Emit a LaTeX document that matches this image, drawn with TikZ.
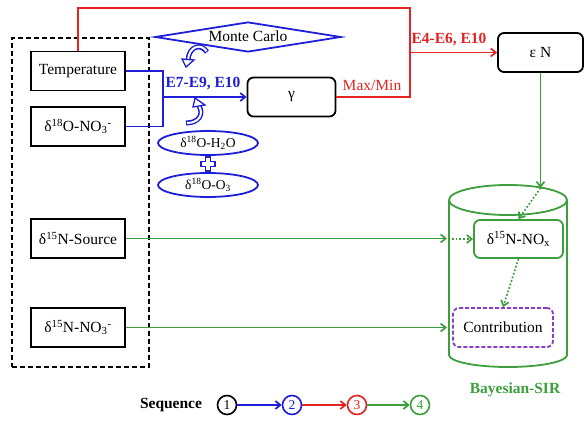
\documentclass[tikz,border=0pt]{standalone}
\usepackage{fontspec}
\setmainfont{Liberation Serif}
\usetikzlibrary{arrows.meta,shapes.geometric,calc}
\definecolor{cb}{RGB}{30,30,215}
\definecolor{cr}{RGB}{228,35,35}
\definecolor{cg}{RGB}{60,158,60}
\definecolor{cp}{RGB}{140,60,190}
\begin{document}
\begin{tikzpicture}[x=1pt,y=-1pt,font=\fontsize{15.5}{18}\selectfont,
  inbox/.style={draw,line width=1.8pt,minimum width=94,minimum height=39,inner sep=0pt},
  rbox/.style={draw,line width=1.8pt,rounded corners=6pt,inner sep=0pt},
  conn/.style={line width=1.7pt},
  tip/.style={-{Straight Barb[length=5pt,width=8pt]}},
  oval/.style={draw=cb,line width=1.8pt,ellipse,minimum width=100,minimum height=24,inner sep=0pt,font=\fontsize{13.5}{15}\selectfont},
  curvbody/.style={draw=cb,line width=5pt},
  curvfill/.style={draw=white,line width=2pt},
  seqc/.style={circle,draw,line width=1.6pt,minimum size=19,inner sep=0pt,font=\fontsize{13.5}{14}\selectfont},
  lbl/.style={font=\fontsize{15.5}{18}\selectfont\bfseries}]
\useasboundingbox (0,0) rectangle (584,425);

% input frame and boxes
\node[draw,dash pattern=on 5pt off 3pt,line width=1.6pt,minimum width=137,minimum height=329,inner sep=0pt] (frame) at (80.5,202.5) {};
\node[inbox] (temp) at (78,71) {Temperature};
\node[inbox] (o18) at (78,126.5) {δ\textsuperscript{18}O-NO\textsubscript{3}\textsuperscript{-}};
\node[inbox] (n15s) at (78,238.5) {δ\textsuperscript{15}N-Source};
\node[inbox] (n15n) at (78,327.5) {δ\textsuperscript{15}N-NO\textsubscript{3}\textsuperscript{-}};

% Monte Carlo and oxygen sources
\node[diamond,draw=cb,line width=1.8pt,aspect=6.2,minimum width=186,minimum height=30,inner sep=0pt] (mc) at (248,37) {};
\node (mct) at (248,36) {Monte Carlo};
\node[oval] (h2o) at (208,143) {δ\textsuperscript{18}O-H\textsubscript{2}O};
\node[oval] (o3) at (208,185) {δ\textsuperscript{18}O-O\textsubscript{3}};
\coordinate (plus) at (208,164);
\draw[cb,line width=1.5pt,fill=white] ($(plus)+(-2.5,-7)$) -- ++(5,0) -- ++(0,4.5) -- ++(4.5,0) -- ++(0,5) -- ++(-4.5,0) -- ++(0,4.5) -- ++(-5,0) -- ++(0,-4.5) -- ++(-4.5,0) -- ++(0,-5) -- ++(4.5,0) -- cycle;

% curved block arrows
\coordinate (ca1) at (207,52);
\coordinate (ca2) at (188,60);
\coordinate (ca3) at (186,67);
\draw[curvbody] (ca1) .. controls (201,43) and (189,46) .. (ca2);
\draw[curvfill,shorten <=1pt] (ca1) .. controls (201,43) and (189,46) .. (ca2);
\draw[cb,line width=1.3pt,fill=white] (182,59) -- (194,60) -- (ca3) -- cycle;
\coordinate (cb1) at (186,123);
\coordinate (cb2) at (199,106);
\coordinate (cb3) at (195,98);
\draw[curvbody] (cb1) .. controls (199,123) and (204,114) .. (cb2);
\draw[curvfill,shorten <=1pt] (cb1) .. controls (199,123) and (204,114) .. (cb2);
\draw[cb,line width=1.3pt,fill=white] (193,107) -- (205,105) -- (cb3) -- cycle;

% gamma and epsilon
\node[rbox,minimum width=88,minimum height=39] (gamma) at (291.5,97) {γ};
\node[rbox,minimum width=85,minimum height=39] (eN) at (540.5,52.5) {ε N};

% blue connectors
\coordinate (bj) at (163,97);
\draw[cb,conn] (temp.east) -| (bj) |- (o18.east);
\draw[cb,conn,tip] (bj) -- (gamma.west);
\node[lbl,text=cb] (e79) at (203,84) {E7-E9, E10};

% red connectors
\coordinate (rtop) at (410,8);
\draw[cr,conn] (gamma.east) -| (rtop) -| (temp.north);
\draw[cr,conn,tip] (rtop |- eN.west) -- (eN.west);
\node[lbl,text=cr] (e46) at (449,40) {E4-E6, E10};
\node[text=cr] (mm) at (372,85) {Max/Min};

% Bayesian-SIR cylinder
\coordinate (cyl) at (508,200);
\draw[cg,line width=1.8pt] (cyl) ellipse [x radius=59,y radius=15];
\draw[cg,line width=1.8pt] (449,200) -- (449,355) arc [start angle=180,end angle=360,x radius=59,y radius=-12] -- (567,200);
\coordinate (cylL) at (447,0);
\coordinate (ctop) at (540.5,188);
\node[rbox,draw=cg,minimum width=89,minimum height=38] (nox) at (518.5,239) {δ\textsuperscript{15}N-NO\textsubscript{x}};
\node[rbox,draw=cp,dash pattern=on 4pt off 2pt,minimum width=100,minimum height=39] (contrib) at (503,327.5) {Contribution};
\node[lbl,text=cg] (bsir) at (515,390) {Bayesian-SIR};

% green connectors
\draw[cg,conn,tip] (eN.south) -- (ctop);
\draw[cg,conn,tip] (n15s.east) -- (n15s.east -| cylL);
\coordinate (nin) at (452,239);
\draw[cg,conn,dotted,tip] (nin) -- (nox.west);
\draw[cg,conn,tip] (n15n.east) -- (n15n.east -| cylL);
\draw[cg,conn,dotted,tip] (ctop) -- (nox.north);
\draw[cg,conn,dotted,tip] (nox.south) -- (contrib.north);

% sequence legend
\node[lbl] (seq) at (171,405) {Sequence};
\node[seqc] (s1) at (227,405) {1};
\node[seqc,draw=cb,text=cb] (s2) at (292,405) {2};
\node[seqc,draw=cr,text=cr] (s3) at (357,405) {3};
\node[seqc,draw=cg,text=cg] (s4) at (420,405) {4};
\draw[cb,conn,tip] (s1) -- (s2);
\draw[cr,conn,tip] (s2) -- (s3);
\draw[cg,conn,tip] (s3) -- (s4);
\end{tikzpicture}
\end{document}
